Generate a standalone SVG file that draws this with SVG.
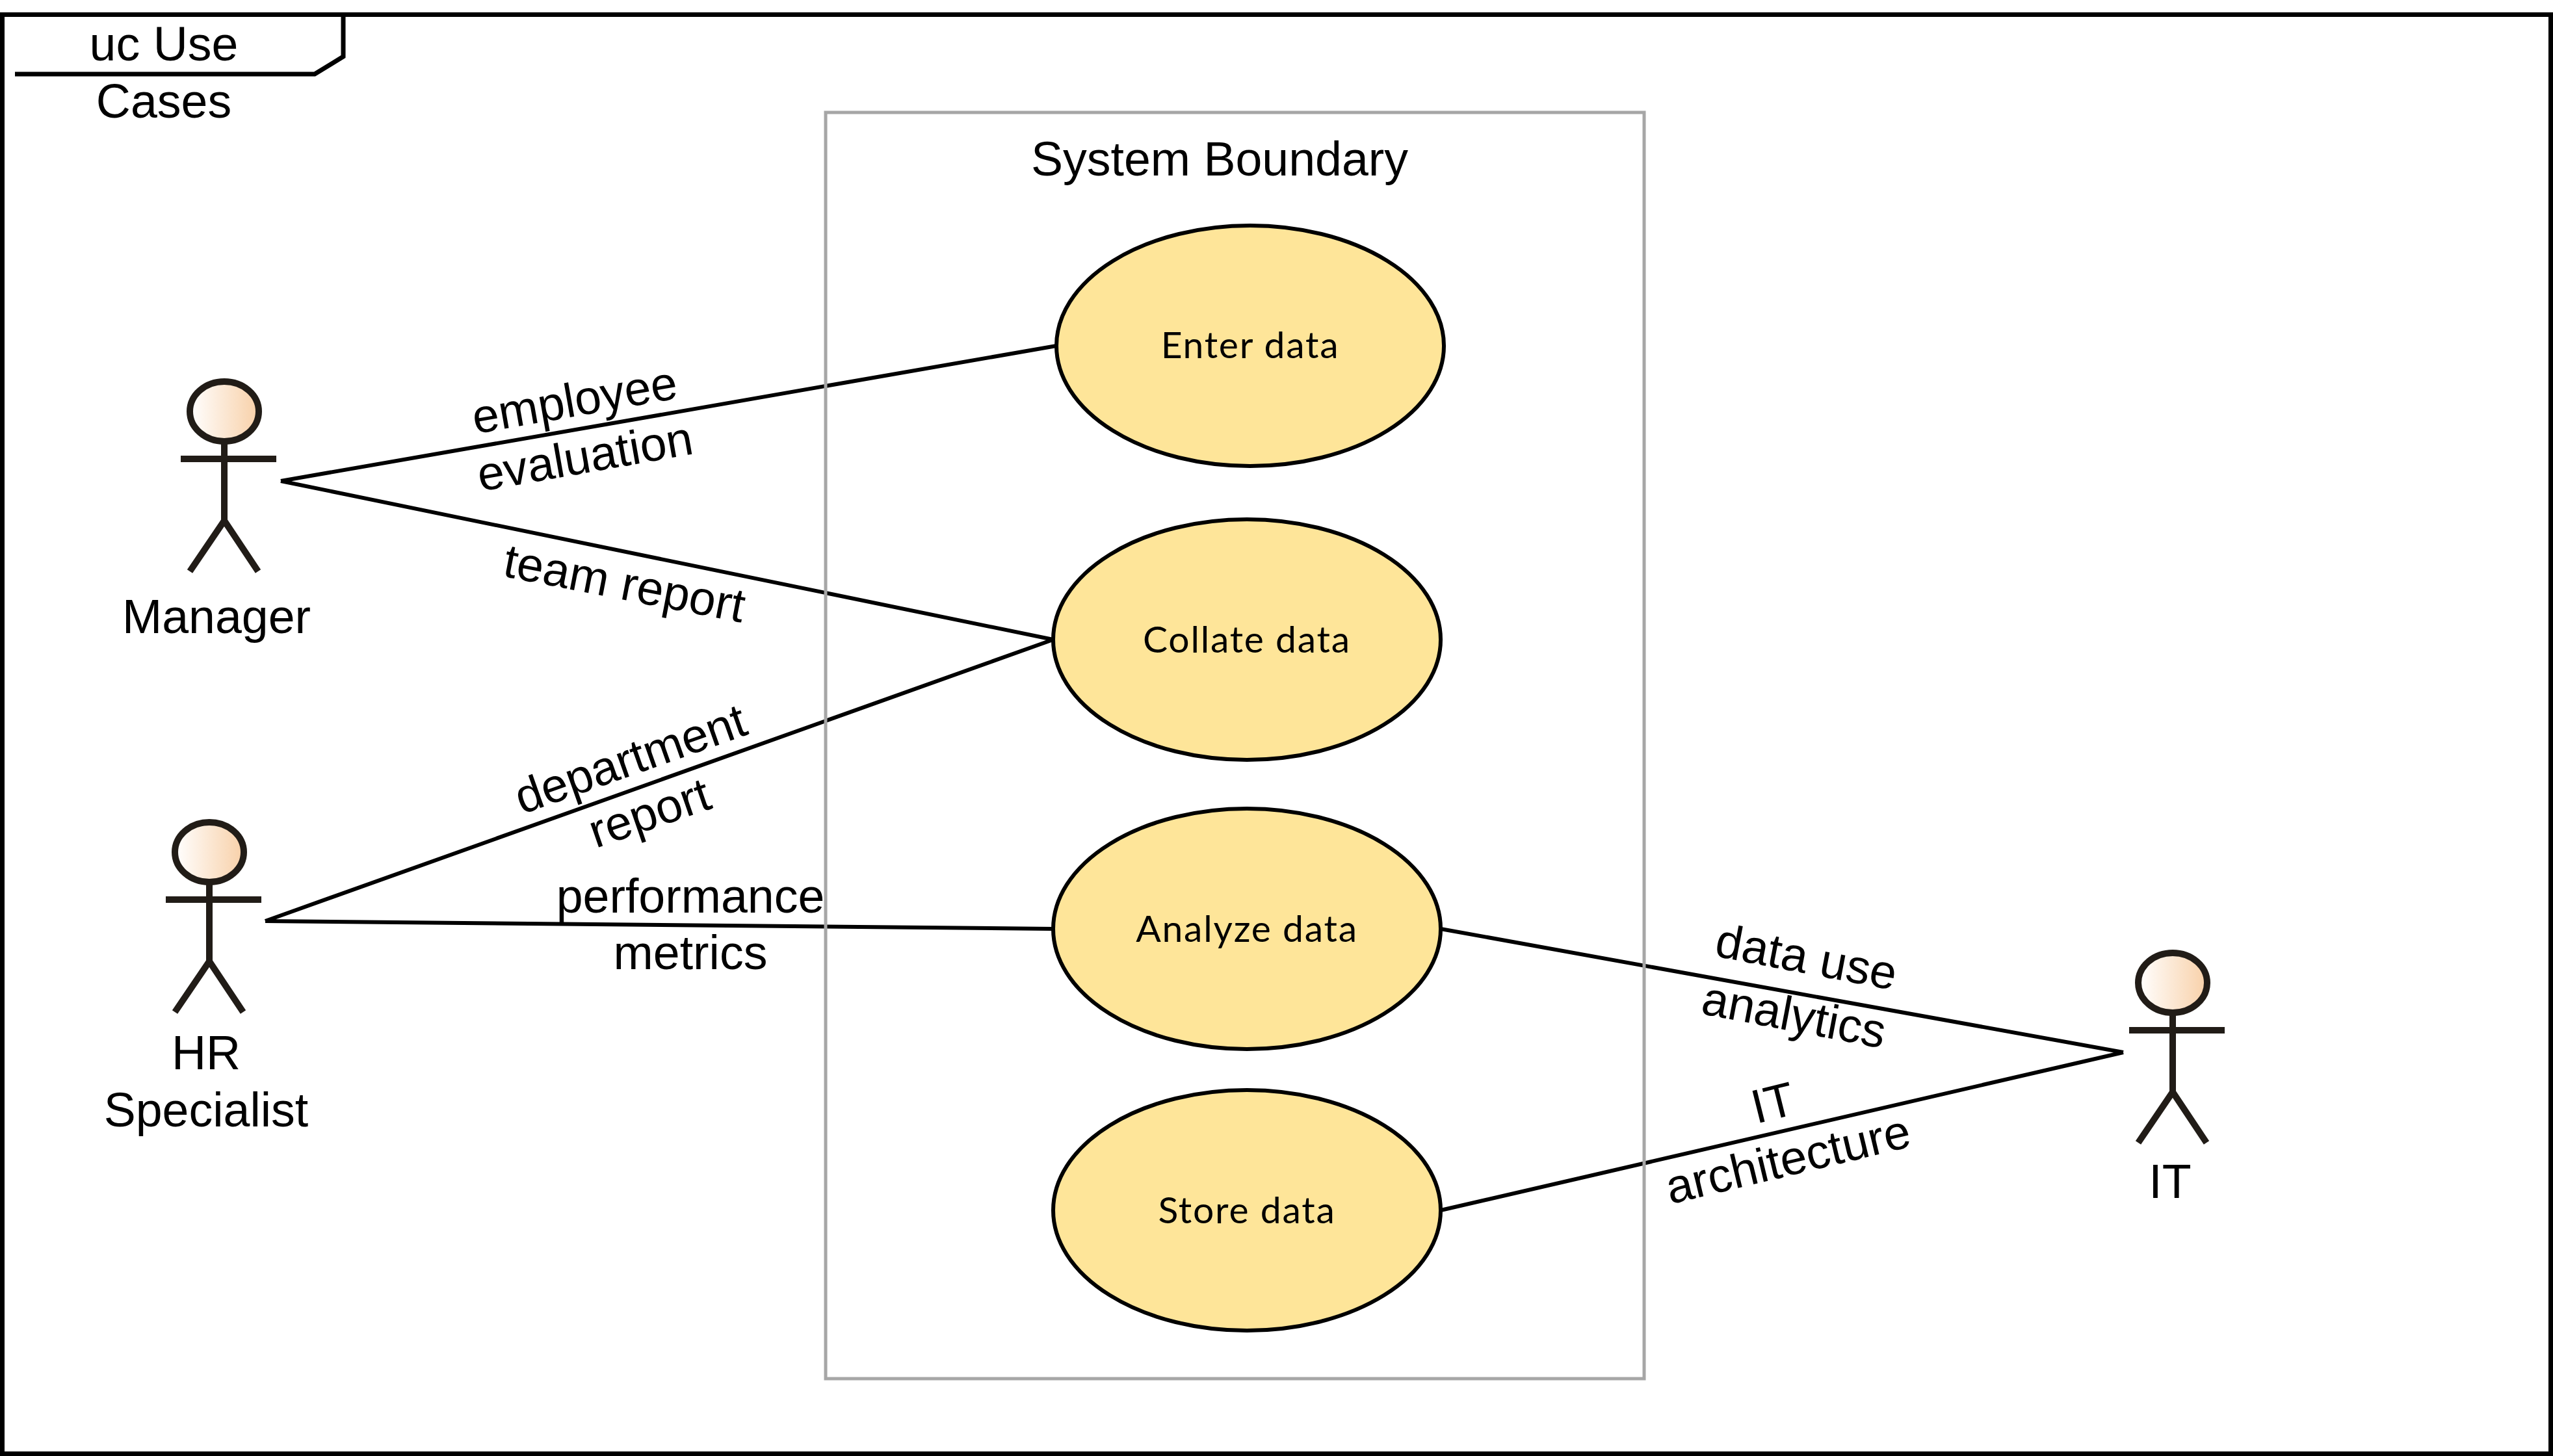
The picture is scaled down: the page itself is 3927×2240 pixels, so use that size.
<svg xmlns="http://www.w3.org/2000/svg" width="3927" height="2240" viewBox="0 0 3927 2240">
<style>
text{font-family:"Liberation Sans",Arial,sans-serif;font-size:73.5px;fill:#000;text-anchor:middle}
.uc{font-family:Lato,"Liberation Sans",sans-serif;font-size:57px;letter-spacing:1.8px}
.usecase{fill:#fee599;stroke:#000;stroke-width:6}
.conn{fill:none;stroke:#000;stroke-width:6}
.frame{fill:none;stroke:#000;stroke-width:7}
.head{fill:url(#skin);stroke:#211c17;stroke-width:10}
.limb{fill:none;stroke:#211c17;stroke-width:10}
</style>
<defs>
<linearGradient id="skin" x1="0" x2="1" y1="0" y2="0"><stop offset="0" stop-color="#fff"/><stop offset="1" stop-color="#f8d0a8"/></linearGradient>
<g id="actor">
<ellipse class="head" cx="0" cy="0" rx="53" ry="46"/>
<path class="limb" d="M0 46V168M-67 73H80M-53 246L0 168L52 246"/>
</g>
</defs>
<rect width="3927" height="2240" fill="#fff"/>
<g id="frame">
<rect class="frame" x="3.5" y="22.5" width="3920" height="2214"/>
<path class="frame" d="M528 22V87L484 114H23"/>
<text x="252" y="93">uc Use</text>
<text x="252" y="181">Cases</text>
</g>
<g id="connectors">
<path class="conn" d="M432 740L1625 532M432 740L1620 984M408 1417L1620 984M408 1417L1620 1429M3266 1619L2216 1429M3266 1619L2216 1862"/>
<text transform="translate(888 640) rotate(-10)">employee</text>
<text transform="translate(904 727) rotate(-10)">evaluation</text>
<text transform="translate(956 922) rotate(11)">team report</text>
<text transform="translate(978 1191) rotate(-19.5)">department</text>
<text transform="translate(1007 1274) rotate(-19)">report</text>
<text x="1062" y="1404">performance</text>
<text x="1062" y="1491">metrics</text>
<text transform="translate(2774 1497) rotate(10.8)">data use</text>
<text transform="translate(2755 1586) rotate(10.8)">analytics</text>
<text transform="translate(2733 1721) rotate(-14)">IT</text>
<text transform="translate(2756 1808) rotate(-13.5)">architecture</text>
</g>
<g id="boundary">
<rect x="1270" y="173" width="1259" height="1948" fill="none" stroke="#a6a6a6" stroke-width="5"/>
<text x="1876" y="270">System Boundary</text>
</g>
<g id="enter-data"><ellipse class="usecase" cx="1923" cy="532" rx="298" ry="185"/><text class="uc" x="1923" y="551">Enter data</text></g>
<g id="collate-data"><ellipse class="usecase" cx="1918" cy="984" rx="298" ry="185"/><text class="uc" x="1918" y="1004">Collate data</text></g>
<g id="analyze-data"><ellipse class="usecase" cx="1918" cy="1429" rx="298" ry="185"/><text class="uc" x="1918" y="1449">Analyze data</text></g>
<g id="store-data"><ellipse class="usecase" cx="1918" cy="1862" rx="298" ry="185"/><text class="uc" x="1918" y="1882">Store data</text></g>
<g id="manager"><use href="#actor" x="345" y="633"/><text x="333" y="974">Manager</text></g>
<g id="hr-specialist"><use href="#actor" x="322" y="1311"/><text x="317" y="1645">HR</text><text x="317" y="1733">Specialist</text></g>
<g id="it"><use href="#actor" x="3342" y="1512"/><text x="3338" y="1843">IT</text></g>
</svg>
